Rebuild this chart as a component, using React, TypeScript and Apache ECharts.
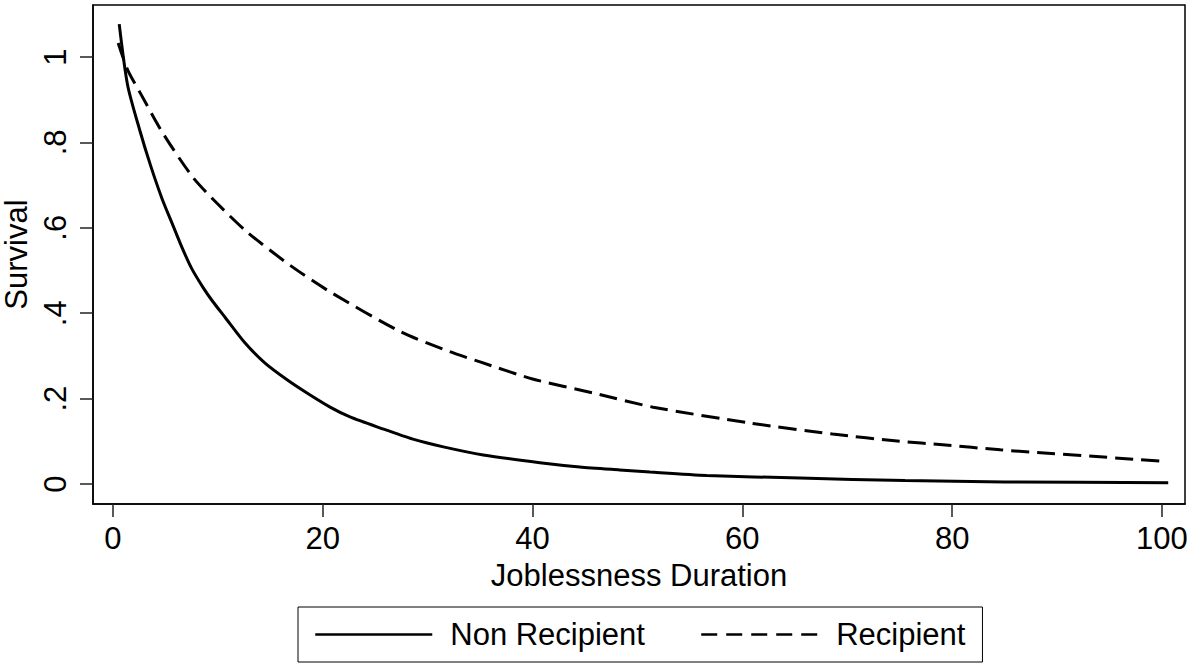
import React, { useEffect, useRef } from "react";
import * as echarts from "echarts";

const nonRecipientX = [0.6, 1.4, 2.6, 3.6, 4.7, 5.7, 6.6, 7.5, 8.6, 9.5, 10.7, 12.6, 14.5, 16.6, 18.5, 20.7, 22.6, 25.5, 28.6, 31.5, 35.3, 40.7, 44.5, 48.3, 51.2, 56.6, 65.5, 75.5, 85, 100.6];
const nonRecipientY = [1.077, 0.934, 0.825, 0.745, 0.667, 0.607, 0.553, 0.505, 0.46, 0.428, 0.39, 0.33, 0.283, 0.244, 0.213, 0.18, 0.157, 0.131, 0.105, 0.087, 0.068, 0.05, 0.04, 0.033, 0.028, 0.02, 0.014, 0.008, 0.005, 0.003];

const recipientX = [0.5, 1.4, 2.6, 4.7, 7.6, 9.9, 12.8, 16.9, 20.7, 27.4, 32.1, 35, 40, 45.8, 51.5, 60.7, 68.6, 75, 79.1, 84.6, 99.8];
const recipientY = [1.033, 0.97, 0.916, 0.824, 0.719, 0.658, 0.59, 0.512, 0.45, 0.357, 0.31, 0.286, 0.246, 0.213, 0.18, 0.143, 0.117, 0.1, 0.092, 0.08, 0.054];

const xTicks = [0, 20, 40, 60, 80, 100];
const yTicks = [0, 0.2, 0.4, 0.6, 0.8, 1];
const seriesNames = ["Non Recipient", "Recipient"];
const xTitle = "Joblessness Duration";
const yTitle = "Survival";

const FONT = "'Liberation Sans', Arial, sans-serif";

export default function App() {
  const ref = useRef<HTMLDivElement>(null);
  useEffect(() => {
    if (!ref.current) return;
    const chart = echarts.init(ref.current, undefined, { renderer: "svg" });
    const fmtY = (v: number) => {
      if (v === 0) return "0";
      if (Math.abs(v - 1) < 1e-9) return "1";
      return "." + Math.round(v * 10);
    };
    const hidden = { color: "rgba(0,0,0,0)", borderColor: "rgba(0,0,0,0)", borderWidth: 0 };
    chart.setOption({
      animation: false,
      backgroundColor: "#fff",
      textStyle: { fontFamily: FONT, color: "#000" },
      grid: {
        left: 93,
        top: 5,
        right: 11,
        bottom: 160,
        outerBoundsMode: "none",
        containLabel: false,
        show: true,
        borderColor: "#000",
        borderWidth: 1.5,
        backgroundColor: "#fff",
      },
      xAxis: {
        type: "value",
        min: -1.9,
        max: 102.2,
        name: xTitle,
        nameLocation: "middle",
        nameGap: 56,
        nameTextStyle: { fontSize: 31, color: "#000", fontFamily: FONT },
        axisLine: { show: true, onZero: false, lineStyle: { color: "#000", width: 1.5 } },
        axisTick: { show: true, length: 13, customValues: xTicks, lineStyle: { color: "#222", width: 1.5 } },
        axisLabel: { customValues: xTicks, fontSize: 31, color: "#000", margin: 19, fontFamily: FONT },
        splitLine: { show: false },
      },
      yAxis: {
        type: "value",
        min: -0.0468,
        max: 1.1218,
        name: yTitle,
        nameLocation: "middle",
        nameRotate: 90,
        nameGap: 51,
        nameTextStyle: { fontSize: 31, color: "#000", fontFamily: FONT },
        axisLine: { show: true, onZero: false, lineStyle: { color: "#000", width: 1.5 } },
        axisTick: { show: true, length: 13, customValues: yTicks, lineStyle: { color: "#222", width: 1.5 } },
        axisLabel: {
          customValues: yTicks,
          rotate: 90,
          fontSize: 31,
          color: "#000",
          margin: 22,
          fontFamily: FONT,
          formatter: fmtY,
        },
        splitLine: { show: false },
      },
      legend: {
        left: 298,
        top: 607,
        orient: "horizontal",
        borderColor: "#000",
        borderWidth: 1,
        padding: [12, 17, 12, 16],
        itemWidth: 117,
        itemHeight: 20,
        itemGap: 55,
        textStyle: { fontSize: 31, color: "#000", fontFamily: FONT, padding: [0, 0, 0, 13] },
        data: [
          { name: seriesNames[0], itemStyle: hidden, lineStyle: { type: "solid", width: 2.5, color: "#000" } },
          { name: seriesNames[1], itemStyle: hidden, lineStyle: { type: [16, 9], width: 2.5, color: "#000" } },
        ],
      },
      series: [
        {
          name: seriesNames[0],
          type: "line",
          smooth: 0.25,
          showSymbol: false,
          symbol: "none",
          data: nonRecipientX.map((x, i) => [x, nonRecipientY[i]]),
          lineStyle: { color: "#000", width: 3, type: "solid" },
          itemStyle: { color: "#000" },
        },
        {
          name: seriesNames[1],
          type: "line",
          smooth: 0.25,
          showSymbol: false,
          symbol: "none",
          data: recipientX.map((x, i) => [x, recipientY[i]]),
          lineStyle: { color: "#000", width: 3, type: [18, 8] },
          itemStyle: { color: "#000" },
        },
      ],
    });
    return () => chart.dispose();
  }, []);
  return (
    <div
      ref={ref}
      style={{ position: "fixed", left: 0, top: 0, width: 1196, height: 664, background: "#fff" }}
    />
  );
}
